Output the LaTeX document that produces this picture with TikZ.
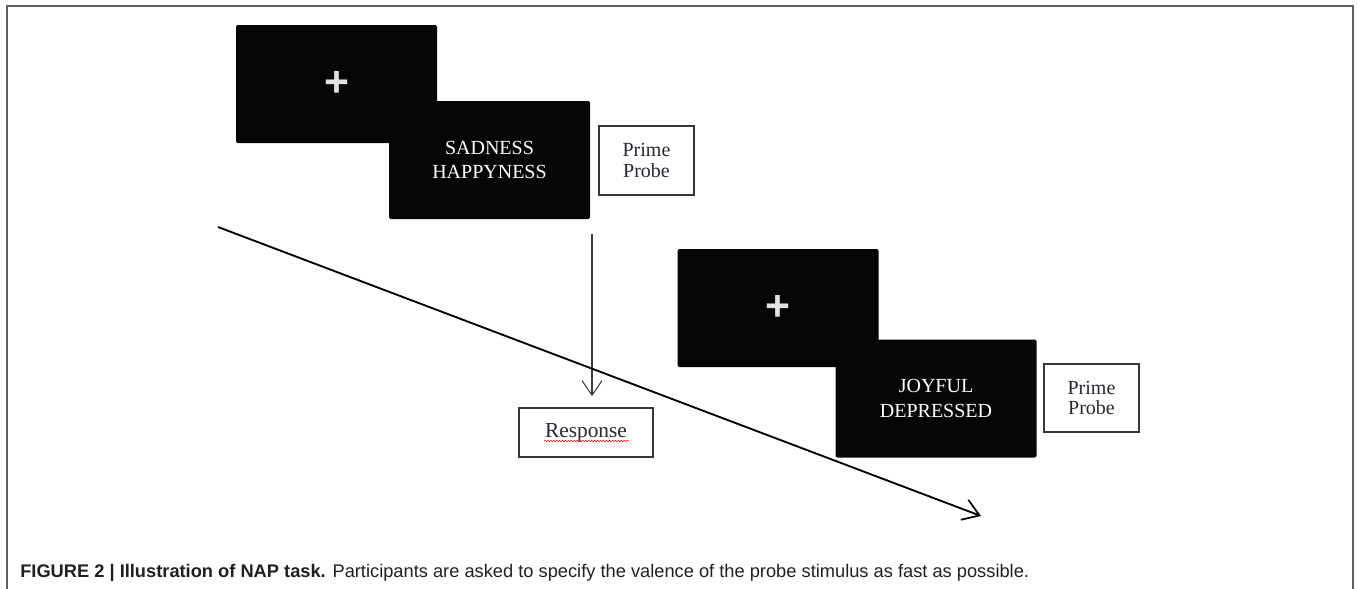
\documentclass[tikz,border=0pt]{standalone}
\usepackage{fontspec}
\setmainfont{Liberation Serif}
\setsansfont{Liberation Sans}
\usetikzlibrary{arrows.meta,decorations.pathmorphing}

\begin{document}
\begin{tikzpicture}[x=0.75pt,y=0.75pt,yscale=-1,xscale=1,
	screen/.style={fill={rgb, 255:red, 6; green, 6; blue, 6 },draw=none,rounded corners=1.5pt,minimum width=150.75pt,minimum height=88.5pt,inner sep=0pt,text=white,align=center,font=\fontsize{15}{18.5}\selectfont},
	fixcross/.style={screen,font=\sffamily\bfseries\fontsize{32}{32}\selectfont,text={rgb, 255:red, 225; green, 225; blue, 225 }},
	labelbox/.style={draw={rgb, 255:red, 55; green, 55; blue, 55 },line width=1.2pt,fill=white,align=center,inner sep=0pt,text={rgb, 255:red, 40; green, 40; blue, 50 },font=\fontsize{15}{15.5}\selectfont},
	timeline/.style={line width=1.4pt,-{Straight Barb[length=12pt,width=16pt,line width=1.3pt]}}]
			\useasboundingbox (0,0) rectangle (1357,589);
			
			%Shape: Frame
			\draw [color={rgb, 255:red, 95; green, 95; blue, 95 },line width=1.1pt]   (7,589) -- (7,6) -- (1353,6) -- (1353,589) ;
			
			%Shape: Screens, first trial
			\node [fixcross] (fixa) at (336.5,84) {+};
			\node [screen] (wordsa) at (489.5,160) {SADNESS\\HAPPYNESS};
			\node [labelbox,minimum width=71.25pt,minimum height=51.75pt] (primea) at (646.5,160.5) {Prime\\Probe};
			
			%Shape: Screens, second trial
			\node [fixcross] (fixb) at (778,308) {+};
			\node [screen] (wordsb) at (936,398.5) {JOYFUL\\DEPRESSED};
			\node [labelbox,minimum width=71.25pt,minimum height=51pt] (primeb) at (1091.5,398) {Prime\\Probe};
			
			% Text Node
			\node [labelbox,minimum width=100.5pt,minimum height=36.75pt,font=\fontsize{16}{16.5}\selectfont] (resp) at (586,432.5) {Response};
			\draw [color=red,line width=0.4pt,decorate,decoration={snake,amplitude=0.5pt,segment length=2.2pt}] ([shift={(-42,8.5)}]resp.center) -- ([shift={(43,8.5)}]resp.center) ;
			
			%Straight Lines: response arrow
			\coordinate (probedown) at (592,234);
			\draw [color={rgb, 255:red, 60; green, 60; blue, 60 },line width=0.8pt,-{Straight Barb[length=11pt,width=15pt,line width=0.8pt]},shorten >=8.25pt] (probedown) -- (probedown |- resp.north) ;
			
			%Straight Lines: time axis
			\coordinate (tstart) at (218,227);
			\coordinate (tend) at (981,516);
			\draw [timeline] (tstart) -- (tend) ;
			
			% Text Node
			\node [anchor=west,inner sep=0pt,font=\sffamily\fontsize{13.7}{15}\selectfont,text={rgb, 255:red, 35; green, 31; blue, 32 }] (caption) at (20,573) {\textbf{FIGURE 2 | Illustration of NAP task.} Participants are asked to specify the valence of the probe stimulus as fast as possible.};
			
		\end{tikzpicture}
\end{document}
